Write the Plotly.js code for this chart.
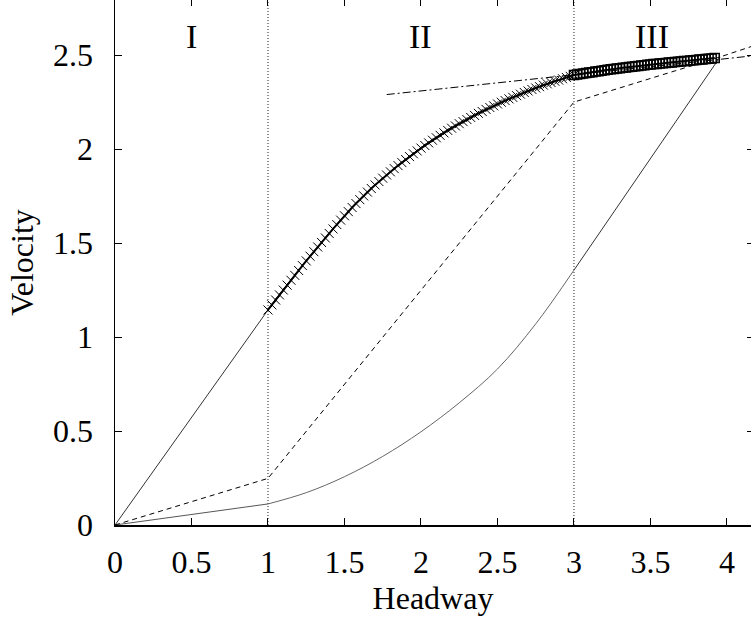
<!DOCTYPE html>
<html><head><meta charset="utf-8">
<script src="https://cdn.plot.ly/plotly-3.0.1.min.js"></script>
<style>html,body{margin:0;padding:0;background:#fff}#chart{width:751px;height:620px}</style>
</head><body><div id="chart"></div>
<script>
// Region boundaries and labels
const regionBounds = [1, 3];
const regionLabels = ['I', 'II', 'III'];
const regionLabelX = [0.5, 2.0, 3.51];
const regionLabelY = [2.6, 2.6, 2.6];

// Thin solid line in region I
const steepX = [0, 1.0];
const steepY = [0, 1.144];

// Lower thin curve
const lowerIx = [0, 1.0];
const lowerIy = [0, 0.112];
const lowerIIx = [1.0, 1.25, 1.5, 1.75, 2.0, 2.25, 2.5, 2.75, 3.0];
const lowerIIy = [0.112, 0.172, 0.257, 0.365, 0.496, 0.65, 0.83, 1.07, 1.356];
const lowerIIIx = [3.0, 3.955];
const lowerIIIy = [1.356, 2.49];

// Dashed piecewise line
const dashedX = [0, 1.0, 3.0, 3.955, 4.157];
const dashedY = [0, 0.248, 2.25, 2.49, 2.545];

// Dash-dot tangent line
const dashDotX = [1.776, 4.157];
const dashDotY = [2.29, 2.495];

// Bold curve, region II (x markers)
const curveIIx = [1.000,1.025,1.050,1.075,1.100,1.125,1.150,1.175,1.200,1.225,1.250,
  1.275,1.300,1.325,1.350,1.375,1.400,1.425,1.450,1.475,1.500,
  1.525,1.550,1.575,1.600,1.625,1.650,1.675,1.700,1.725,1.750,
  1.775,1.800,1.825,1.850,1.875,1.900,1.925,1.950,1.975,2.000,
  2.025,2.050,2.075,2.100,2.125,2.150,2.175,2.200,2.225,2.250,
  2.275,2.300,2.325,2.350,2.375,2.400,2.425,2.450,2.475,2.500,
  2.525,2.550,2.575,2.600,2.625,2.650,2.675,2.700,2.725,2.750,
  2.775,2.800,2.825,2.850,2.875,2.900,2.925,2.950,2.975,3.000];
const curveIIy = [1.144,1.171,1.197,1.224,1.250,1.276,1.302,1.328,1.354,1.380,1.405,
  1.430,1.454,1.479,1.503,1.527,1.551,1.575,1.598,1.622,1.645,
  1.667,1.689,1.710,1.731,1.751,1.771,1.790,1.809,1.827,1.845,
  1.862,1.879,1.896,1.912,1.928,1.944,1.960,1.975,1.990,2.005,
  2.019,2.033,2.047,2.060,2.073,2.086,2.099,2.111,2.123,2.135,
  2.146,2.157,2.168,2.179,2.190,2.200,2.211,2.221,2.230,2.240,
  2.249,2.258,2.267,2.275,2.284,2.292,2.301,2.309,2.317,2.325,
  2.332,2.340,2.347,2.354,2.361,2.367,2.374,2.381,2.387,2.394];

// Bold curve, region III (square markers)
const curveIIIx = [3.00,3.02,3.04,3.06,3.08,3.10,3.12,3.14,3.16,3.18,3.20,3.22,3.24,3.26,3.28,3.30,
  3.32,3.34,3.36,3.38,3.40,3.42,3.44,3.46,3.48,3.50,3.52,3.54,3.56,3.58,3.60,3.62,
  3.64,3.66,3.68,3.70,3.72,3.74,3.76,3.78,3.80,3.82,3.84,3.86,3.88,3.90,3.92];
const curveIIIy = [2.394,2.397,2.399,2.402,2.404,2.407,2.409,2.412,2.414,2.417,2.419,2.422,2.424,2.426,2.428,2.430,
  2.432,2.434,2.436,2.438,2.440,2.442,2.444,2.446,2.448,2.450,2.452,2.453,2.455,2.456,2.458,2.460,
  2.461,2.463,2.464,2.466,2.468,2.469,2.471,2.472,2.474,2.476,2.477,2.479,2.481,2.482,2.484];

// Axes
const xRange = [0, 4.157];
const yRange = [0, 2.793];
const xTickVals = [0, 0.5, 1, 1.5, 2, 2.5, 3, 3.5, 4];
const xTickText = ['0', '0.5', '1', '1.5', '2', '2.5', '3', '3.5', '4'];
const yTickVals = [0, 0.5, 1, 1.5, 2, 2.5];
const yTickText = ['0', '0.5', '1', '1.5', '2', '2.5'];

const serif = 'Liberation Serif, Times New Roman, serif';
const blk = '#000';

const traces = [];
regionBounds.forEach(b => {
  traces.push({x: [b, b], y: yRange, mode: 'lines', line: {color: '#222', width: 1, dash: '1px,2px'}, hoverinfo: 'skip', showlegend: false});
});
traces.push({x: steepX, y: steepY, mode: 'lines', line: {color: '#333', width: 1}, showlegend: false});
traces.push({x: lowerIx, y: lowerIy, mode: 'lines', line: {color: '#555', width: 1}, showlegend: false});
traces.push({x: lowerIIx, y: lowerIIy, mode: 'lines', line: {color: '#666', width: 1, shape: 'spline', smoothing: 1}, showlegend: false});
traces.push({x: lowerIIIx, y: lowerIIIy, mode: 'lines', line: {color: '#333', width: 1}, showlegend: false});
traces.push({x: dashedX, y: dashedY, mode: 'lines', line: {color: blk, width: 1, dash: '5px,4px'}, showlegend: false});
traces.push({x: dashDotX, y: dashDotY, mode: 'lines', line: {color: blk, width: 1, dash: '8px,3px,2px,3px'}, showlegend: false});
traces.push({x: curveIIx, y: curveIIy, mode: 'lines+markers', line: {color: blk, width: 2},
  marker: {symbol: 'x-thin-open', size: 9, color: blk, line: {color: blk, width: 1}}, showlegend: false});
traces.push({x: curveIIIx, y: curveIIIy, mode: 'lines+markers', line: {color: blk, width: 2},
  marker: {symbol: 'square-open', size: 9, color: blk, line: {color: blk, width: 1.5}}, showlegend: false});
// mirror-tick axes carrier
traces.push({x: [null], y: [null], xaxis: 'x2', yaxis: 'y2', mode: 'markers', showlegend: false, hoverinfo: 'skip'});

const annotations = regionLabels.map((t, i) => ({
  x: regionLabelX[i], y: regionLabelY[i], xref: 'x', yref: 'y', text: t, showarrow: false,
  font: {family: serif, size: 34, color: blk}, xanchor: 'center', yanchor: 'middle'
}));

const axisFont = {family: serif, size: 32, color: blk};
const layout = {
  width: 751, height: 620,
  margin: {l: 115, r: 0, t: 0, b: 95, pad: 0},
  paper_bgcolor: '#fff', plot_bgcolor: '#fff',
  showlegend: false,
  xaxis: {range: xRange, tickvals: xTickVals, ticktext: xTickText, ticks: 'inside', ticklen: 7, tickwidth: 1, tickcolor: blk,
    showline: true, linecolor: blk, linewidth: 1.5, showgrid: false, zeroline: false, tickfont: axisFont,
    ticklabelstandoff: 8, automargin: false, fixedrange: true,
    title: {text: 'Headway', font: axisFont, standoff: 2}},
  yaxis: {range: yRange, tickvals: yTickVals, ticktext: yTickText, ticks: 'inside', ticklen: 7, tickwidth: 1, tickcolor: blk,
    showline: true, linecolor: blk, linewidth: 1.5, showgrid: false, zeroline: false, tickfont: axisFont,
    ticklabelstandoff: 14, automargin: false, fixedrange: true,
    title: {text: 'Velocity', font: axisFont, standoff: 10}},
  xaxis2: {range: xRange, tickvals: xTickVals, ticks: 'inside', ticklen: 6, tickwidth: 1, tickcolor: blk,
    overlaying: 'x', side: 'top', anchor: 'y2', showline: false, showgrid: false, zeroline: false, showticklabels: false, fixedrange: true},
  yaxis2: {range: yRange, tickvals: yTickVals, ticks: 'inside', ticklen: 4, tickwidth: 1, tickcolor: blk,
    overlaying: 'y', side: 'right', anchor: 'x2', showline: false, showgrid: false, zeroline: false, showticklabels: false, fixedrange: true},
  annotations: annotations
};

Plotly.newPlot('chart', traces, layout, {displayModeBar: false, staticPlot: true});
</script>
</body></html>
